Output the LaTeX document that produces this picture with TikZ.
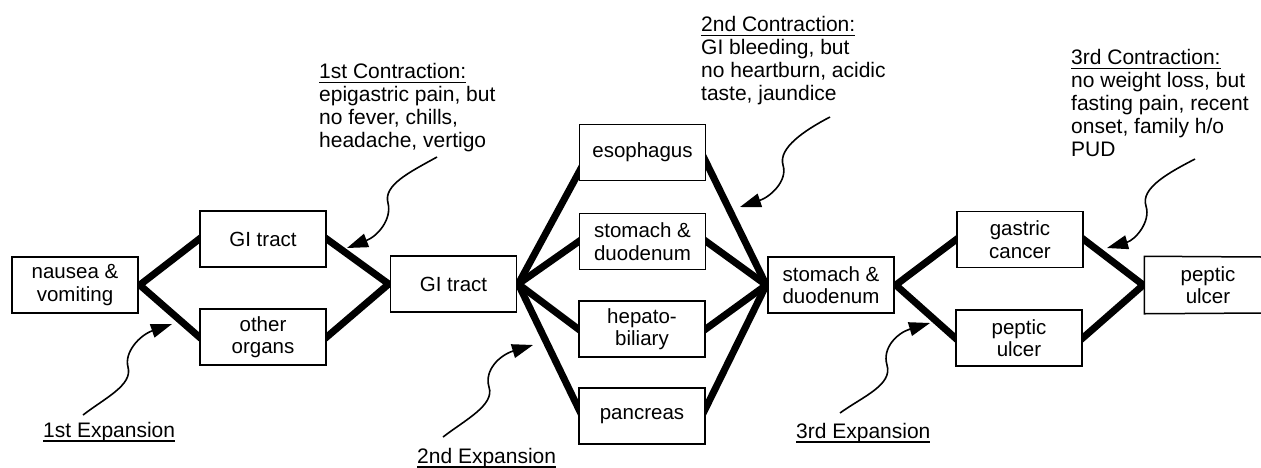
\documentclass[tikz,border=0pt]{standalone}
\usepackage{fontspec}
\setmainfont{Liberation Sans}
\usetikzlibrary{arrows.meta}
\pgfdeclarelayer{bg}
\pgfsetlayers{bg,main}
\newcommand\ulx[1]{\setbox0\hbox{#1}\rlap{\rule[-4.5pt]{\wd0}{1.2pt}}\box0}
\begin{document}
\begin{tikzpicture}[x=1pt,y=-1pt,
  box/.style={draw,fill=white,line width=1.5pt,minimum width=126pt,minimum height=56pt,inner sep=0pt,align=center,font=\fontsize{20.5}{22.5}\selectfont},
  link/.style={line width=7pt,line join=miter,shorten <=-10pt,shorten >=-10pt},
  note/.style={inner sep=0pt,align=left,anchor=north west,font=\fontsize{21}{23}\selectfont},
  lab/.style={inner sep=0pt,anchor=base west,font=\fontsize{21}{23}\selectfont},
  wavy/.style={line width=1.6pt,-{Triangle[length=21pt,width=14pt]}}]
\useasboundingbox (0,0) rectangle (1261,467);
% boxes
\node[box] (nv)  at (75,285)    {nausea \&\\vomiting};
\node[box] (gi1) at (263,239)   {GI tract};
\node[box] (oo)  at (263,337)   {other\\organs};
\node[box] (gi2) at (453.5,284) {GI tract};
\node[box] (eso) at (642.5,152.5) {esophagus};
\node[box] (sd1) at (642.5,241.5) {stomach \&\\duodenum};
\node[box] (hb)  at (642,329)   {hepato-\\biliary};
\node[box] (pan) at (642,416)   {pancreas};
\node[box] (sd2) at (831,285)   {stomach \&\\duodenum};
\node[box] (gc)  at (1020,239.5) {gastric\\cancer};
\node[box] (pu1) at (1019,338)  {peptic\\ulcer};
\node[box,draw=none] (pu2) at (1208,285) {peptic\\ulcer};
\draw[line width=1.5pt] (1262,257) -- (pu2.north west) -- (pu2.south west) -- (1262,313);
% thick links
\begin{pgfonlayer}{bg}
\draw[link] (gi1.west) -- ([xshift=1pt]nv.east) -- (oo.west);
\draw[link] (gi1.east) -- ([xshift=-1pt]gi2.west) -- (oo.east);
\draw[link] ([yshift=-20pt]eso.west) -- ([xshift=1pt]gi2.east) -- ([yshift=8pt]pan.west);
\draw[link] (sd1.west) -- ([xshift=1pt]gi2.east) -- (hb.west);
\draw[link] ([yshift=-10pt]eso.east) -- ([xshift=-1pt]sd2.west) -- ([yshift=8pt]pan.east);
\draw[link] (sd1.east) -- ([xshift=-1pt]sd2.west) -- (hb.east);
\draw[link] (gc.west) -- ([xshift=1pt]sd2.east) -- (pu1.west);
\draw[link] (gc.east) -- ([xshift=-1pt]pu2.west) -- (pu1.east);
\end{pgfonlayer}
% annotations
\node[note] (c1) at (319,63) {\ulx{1st Contraction:}\\epigastric pain, but\\no fever, chills,\\headache, vertigo};
\node[note] (c2) at (701,16) {\ulx{2nd Contraction:}\\GI bleeding, but\\no heartburn, acidic\\taste, jaundice};
\node[note] (c3) at (1071,49) {\ulx{3rd Contraction:}\\no weight loss, but\\fasting pain, recent\\onset, family h/o\\PUD};
\node[lab] (e1) at (43,437) {\ulx{1st Expansion}};
\node[lab] (e2) at (417,463) {\ulx{2nd Expansion}};
\node[lab] (e3) at (796,438) {\ulx{3rd Expansion}};
% wavy arrows
\coordinate (c1s) at (437,157); \coordinate (c1t) at (347,248);
\coordinate (c2s) at (830,117); \coordinate (c2t) at (740,207);
\coordinate (c3s) at (1195,159); \coordinate (c3t) at (1107,248);
\coordinate (e1s) at (83,415); \coordinate (e1t) at (172,324);
\coordinate (e2s) at (443,437); \coordinate (e2t) at (533,345);
\coordinate (e3s) at (840,413); \coordinate (e3t) at (930,323);
\draw[wavy] (c1s) .. controls (410,172) and (383,185) .. (388,203) .. controls (392,219) and (378,236) .. (c1t);
\draw[wavy] (c2s) .. controls (805,130) and (778,148) .. (783,165) .. controls (788,181) and (770,197) .. (c2t);
\draw[wavy] (c3s) .. controls (1170,172) and (1140,188) .. (1146,206) .. controls (1151,222) and (1135,240) .. (c3t);
\draw[wavy] (e1s) .. controls (105,398) and (133,385) .. (128,367) .. controls (124,352) and (140,335) .. (e1t);
\draw[wavy] (e2s) .. controls (465,420) and (495,405) .. (489,387) .. controls (484,370) and (500,355) .. (e2t);
\draw[wavy] (e3s) .. controls (862,397) and (893,385) .. (887,365) .. controls (882,348) and (897,333) .. (e3t);
\end{tikzpicture}
\end{document}
